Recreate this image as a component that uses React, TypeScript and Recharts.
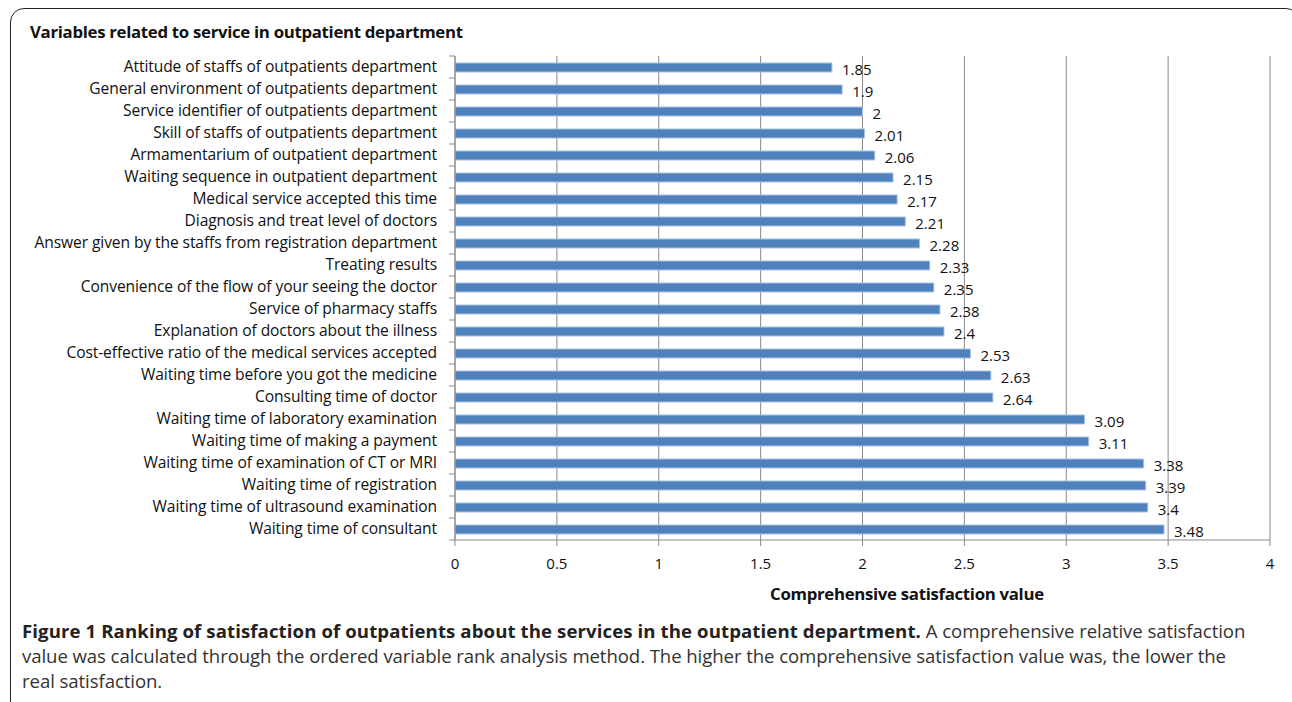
import React from "react";
import { BarChart, Bar, XAxis, YAxis, CartesianGrid, LabelList } from "recharts";

const categories = [
  "Attitude of staffs of outpatients department",
  "General environment of outpatients department",
  "Service identifier of outpatients department",
  "Skill of staffs of outpatients department",
  "Armamentarium of outpatient department",
  "Waiting sequence in outpatient department",
  "Medical service accepted this time",
  "Diagnosis and treat level of doctors",
  "Answer given by the staffs from registration department",
  "Treating results",
  "Convenience of the flow of your seeing the doctor",
  "Service of pharmacy staffs",
  "Explanation of doctors about the illness",
  "Cost-effective ratio of the medical services accepted",
  "Waiting time before you got the medicine",
  "Consulting time of doctor",
  "Waiting time of laboratory examination",
  "Waiting time of making a payment",
  "Waiting time of examination of CT or MRI",
  "Waiting time of registration",
  "Waiting time of ultrasound examination",
  "Waiting time of consultant",
];

const values = [1.85, 1.9, 2, 2.01, 2.06, 2.15, 2.17, 2.21, 2.28, 2.33, 2.35, 2.38, 2.4, 2.53, 2.63, 2.64, 3.09, 3.11, 3.38, 3.39, 3.4, 3.48];

const xTicks = [0, 0.5, 1, 1.5, 2, 2.5, 3, 3.5, 4];

const data = categories.map((c, i) => ({ name: c, value: values[i] }));

const FONT = "'Open Sans', sans-serif";
const GRID = "#8a8a8a";
const HALF_BAND = 11;

const YTick = (props: any) => {
  const { x, y, payload, index } = props;
  const axisX = x + 18;
  return (
    <g>
      <line x1={axisX} x2={axisX - 6} y1={y - HALF_BAND} y2={y - HALF_BAND} stroke={GRID} />
      {index === categories.length - 1 && (
        <line x1={axisX} x2={axisX - 6} y1={y + HALF_BAND} y2={y + HALF_BAND} stroke={GRID} />
      )}
      <text x={x} y={y} dy={5} textAnchor="end" fontSize={15.6} fill="#111" fontFamily={FONT} letterSpacing={-0.1}>
        {payload.value}
      </text>
    </g>
  );
};

const XTick = (props: any) => {
  const { x, y, payload } = props;
  return (
    <text x={x} y={y} dy={21} textAnchor="middle" fontSize={15} fill="#111" fontFamily={FONT}>
      {payload.value}
    </text>
  );
};

export default function App() {
  return (
    <div style={{ position: "absolute", left: 0, top: 0, width: 1292, height: 702, overflow: "hidden", background: "#fff" }}>
      <div
        style={{
          position: "absolute",
          left: 10,
          top: 8,
          width: 1290,
          height: 730,
          border: "1.5px solid #222",
          borderRadius: 14,
          boxSizing: "border-box",
        }}
      />
      <div
        style={{
          position: "absolute",
          left: 30,
          top: 20,
          fontFamily: FONT,
          fontWeight: 700,
          fontSize: 16.8,
          letterSpacing: -0.3,
          color: "#111",
          whiteSpace: "nowrap",
        }}
      >
        Variables related to service in outpatient department
      </div>
      <div style={{ position: "absolute", left: 0, top: 0 }}>
        <BarChart
          width={1292}
          height={702}
          data={data}
          layout="vertical"
          margin={{ top: 56, right: 22, bottom: 132, left: 0 }}
          barCategoryGap={0}
        >
          <CartesianGrid horizontal={false} vertical={true} stroke={GRID} strokeWidth={1} />
          <XAxis
            type="number"
            domain={[0, 4]}
            ticks={xTicks}
            height={30}
            stroke={GRID}
            tickSize={6}
            tick={<XTick />}
            interval={0}
          />
          <YAxis
            type="category"
            dataKey="name"
            width={455}
            stroke={GRID}
            tickLine={false}
            tickMargin={12}
            tick={<YTick />}
            interval={0}
          />
          <Bar dataKey="value" fill="#4F81BD" stroke="#A9C2E2" strokeWidth={1} barSize={9} isAnimationActive={false}>
            <LabelList
              dataKey="value"
              position="right"
              offset={10}
              fontSize={15}
              fill="#111"
              fontFamily={FONT}
              dy={2}
            />
          </Bar>
        </BarChart>
      </div>
      <div
        style={{
          position: "absolute",
          left: 770,
          top: 582,
          fontFamily: FONT,
          fontWeight: 700,
          fontSize: 16.8,
          letterSpacing: -0.3,
          color: "#111",
          whiteSpace: "nowrap",
        }}
      >
        Comprehensive satisfaction value
      </div>
      <div
        style={{
          position: "absolute",
          left: 22,
          top: 618,
          fontFamily: "'Open Sans', sans-serif",
          fontSize: 18.6,
          lineHeight: "25px",
          color: "#333",
          whiteSpace: "nowrap",
          letterSpacing: -0.08,
        }}
      >
        <div>
          <span style={{ fontWeight: 700, color: "#222", letterSpacing: 0.1 }}>
            Figure 1 Ranking of satisfaction of outpatients about the services in the outpatient department.
          </span>{" "}
          A comprehensive relative satisfaction
        </div>
        <div>value was calculated through the ordered variable rank analysis method. The higher the comprehensive satisfaction value was, the lower the</div>
        <div>real satisfaction.</div>
      </div>
    </div>
  );
}
